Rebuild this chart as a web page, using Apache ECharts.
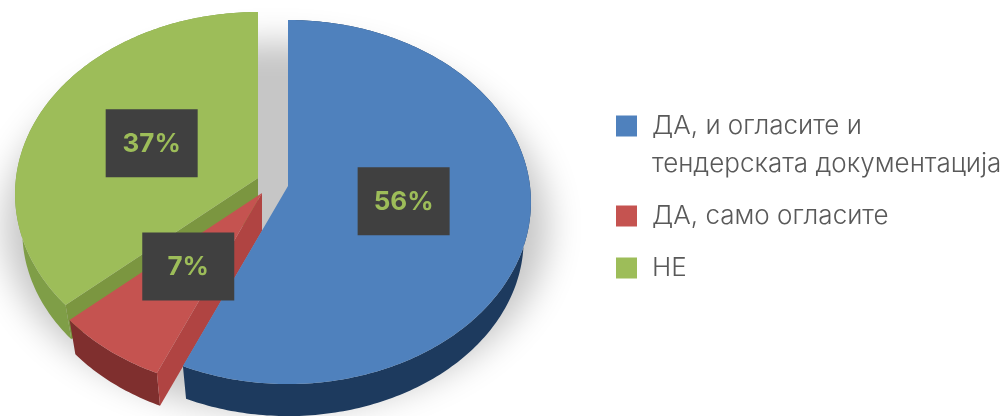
<!DOCTYPE html>
<html>
<head>
<meta charset="utf-8">
<title>Pie</title>
<script src="https://cdn.jsdelivr.net/npm/echarts@6/dist/echarts.min.js"></script>
<style>
  html, body { margin: 0; padding: 0; background: #fff; }
  #chart { width: 1006px; height: 416px; }
</style>
</head>
<body>
<div id="chart"></div>
<script>
// data
const categories = ['ДА, и огласите и\nтендерската документација', 'ДА, само огласите', 'НЕ'];
const shares = [56, 7, 37];
const shareLabels = ['56%', '7%', '37%'];

// look of each slice, same order as categories
const topColors = ['#4f81bd', '#c55350', '#9dbd59'];
const rimColors = ['#1d3a5e', '#7f2f2e', '#7f9e47'];
const sideColors = ['#1d3a5e', '#b04442', '#7b9640'];
const apexes = [[288, 186], [262, 193], [258, 178]];
const labelNudge = [[1, -3], [-3, 1], [-2, 0]];

// tilted disc: radii, perspective strength, depth of the wall
const RX = 242, RY = 180.6, PERSP = 0.088, DEPTH = 38, BOTTOM_SCALE = 0.97;
const LABEL_R = 0.48;
// the 3d view turns the lower left a little further round, in radians
const VIEW_TURN = 2 * Math.PI / 180;

const total = shares.reduce((a, b) => a + b, 0);
const starts = [];
shares.reduce((acc, v, i) => { starts[i] = acc; return acc + v; }, 0);

// angle in percent of the circle, clockwise from top -> screen point
function project(i, pct, r, lower) {
  const a = pct / total * Math.PI * 2;
  const t = a + VIEW_TURN * Math.pow(Math.sin(a / 2), 2);
  const u = Math.sin(t) * r, v = -Math.cos(t) * r;
  const w = 1 - PERSP * v;
  const s = lower ? BOTTOM_SCALE : 1;
  return [
    apexes[i][0] + RX * u / w * s,
    apexes[i][1] + RY * v / w * s + (lower ? DEPTH : 0)
  ];
}

function arc(i, lower) {
  const pts = [];
  const steps = Math.max(2, Math.round(shares[i] * 4));
  for (let k = 0; k <= steps; k++) {
    pts.push(project(i, starts[i] + shares[i] * k / steps, 1, lower));
  }
  return pts;
}

function renderSlice(params) {
  // series 1, 2, 3 are green, red, blue (back to front)
  const i = 3 - params.seriesIndex;
  const top = arc(i, false), low = arc(i, true);
  const apex = apexes[i], apexLow = project(i, 0, 0, true);
  const children = [];
  // outer wall
  children.push({
    type: 'polygon',
    shape: { points: top.concat(low.slice().reverse()) },
    style: { fill: rimColors[i] }
  });
  // cut face on the first edge, blue does not show it
  if (i > 0) {
    children.push({
      type: 'polygon',
      shape: { points: [apex, top[0], low[0], apexLow] },
      style: { fill: sideColors[i] }
    });
  }
  children.push({
    type: 'polygon',
    shape: { points: [apex].concat(top) },
    style: { fill: topColors[i] }
  });
  return { type: 'group', children };
}

// only the blurred shadow lands on the canvas, the shape itself sits off to the left
function renderShadow() {
  const pts = [];
  for (let a = 0; a < 360; a += 2) {
    const t = a * Math.PI / 180;
    pts.push([276 - 3000 + 272 * Math.cos(t), 226 + 184 * Math.sin(t)]);
  }
  return {
    type: 'polygon',
    shape: { points: pts },
    style: { fill: '#000', shadowBlur: 34, shadowColor: '#c6c6c6', shadowOffsetX: 3000 }
  };
}

function renderLabel(params, api) {
  const i = params.dataIndex;
  const c = project(i, starts[i] + api.value(0) / 2, LABEL_R, false);
  const x = c[0] + labelNudge[i][0], y = c[1] + labelNudge[i][1];
  return {
    type: 'group',
    children: [
      {
        type: 'rect',
        shape: { x: x - 46, y: y - 34, width: 92, height: 68 },
        style: { fill: '#404040' }
      },
      {
        type: 'text',
        x: x,
        y: y + 1,
        style: {
          text: shareLabels[i],
          fill: '#9dbd59',
          font: '700 26px Inter, sans-serif',
          align: 'center',
          verticalAlign: 'middle'
        }
      }
    ]
  };
}

const sliceSeries = [2, 1, 0].map(i => ({
  type: 'custom',
  name: categories[i],
  coordinateSystem: 'none',
  silent: true,
  itemStyle: { color: topColors[i] },
  data: [[shares[i]]],
  renderItem: renderSlice
}));

const chart = echarts.init(document.getElementById('chart'), null, { renderer: 'canvas' });
chart.setOption({
  animation: false,
  backgroundColor: '#fff',
  legend: {
    data: categories,
    orient: 'vertical',
    left: 616,
    top: 69,
    padding: 0,
    itemGap: 14,
    itemWidth: 21,
    itemHeight: 21,
    icon: 'rect',
    selectedMode: false,
    // blank first line keeps the marker beside the first line of a two line name
    formatter: name => (name.indexOf('\n') > -1 ? '\n' + name : name),
    textStyle: {
      fontFamily: 'Inter, sans-serif',
      fontWeight: 300,
      fontSize: 26,
      lineHeight: 38,
      color: '#595959',
      padding: [0, 0, 0, 10]
    }
  },
  series: [
    { type: 'custom', coordinateSystem: 'none', silent: true, clip: false, data: [[1]], renderItem: renderShadow }
  ].concat(sliceSeries, [
    { type: 'custom', coordinateSystem: 'none', silent: true, data: shares.map(v => [v]), renderItem: renderLabel }
  ])
});
</script>
</body>
</html>
